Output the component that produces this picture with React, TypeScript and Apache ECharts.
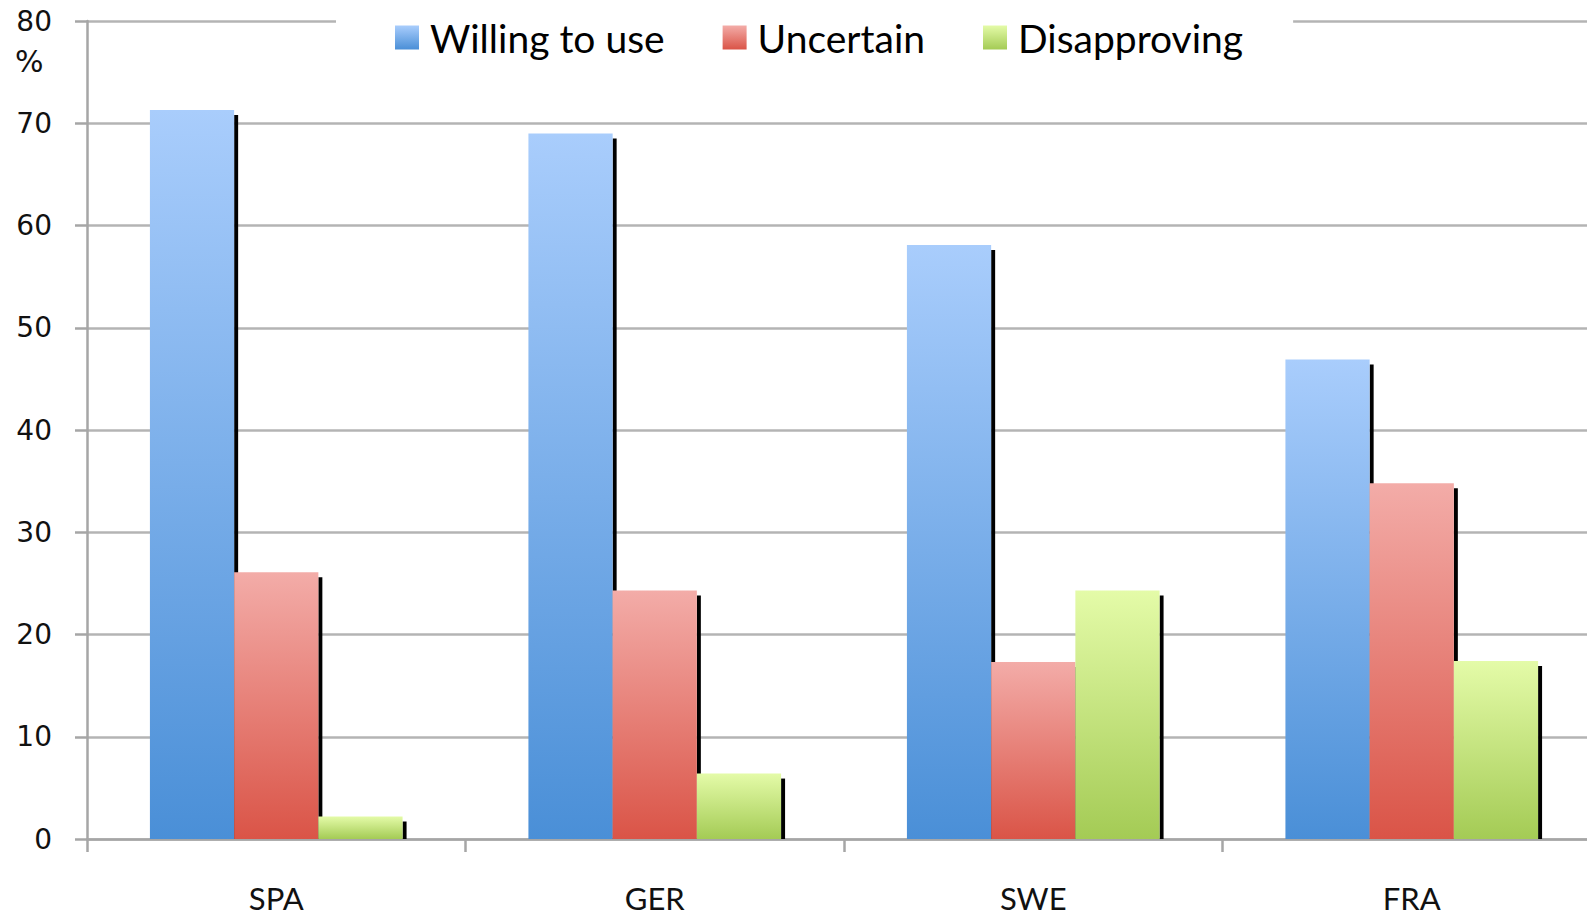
import React, { useEffect, useRef } from "react";
import * as echarts from "echarts";

const categories = ["SPA", "GER", "SWE", "FRA"];
const seriesNames = ["Willing to use", "Uncertain", "Disapproving"];
const willing = [71.3, 69.0, 58.1, 46.9];
const uncertain = [26.1, 24.3, 17.3, 34.8];
const disapproving = [2.2, 6.4, 24.3, 17.4];
const yTicks = [0, 10, 20, 30, 40, 50, 60, 70, 80];

const gradients = [
  ["#a9cdfc", "#4a8fd7"],
  ["#f3aca8", "#da5447"],
  ["#e4fba8", "#a4cb55"],
];

const BAR_FRAC = 0.2225;

export default function App() {
  const ref = useRef<HTMLDivElement>(null);
  useEffect(() => {
    if (!ref.current) return;
    const chart = echarts.init(ref.current, undefined, { renderer: "svg" });
    const allData = [willing, uncertain, disapproving];
    const grad = (i: number) =>
      new echarts.graphic.LinearGradient(0, 0, 0, 1, [
        { offset: 0, color: gradients[i][0] },
        { offset: 1, color: gradients[i][1] },
      ]);
    const series = allData.map((vals, idx) => ({
      type: "custom",
      name: seriesNames[idx],
      itemStyle: { color: gradients[idx][1] },
      data: vals.map((v, ci) => [ci, v]),
      encode: { x: 0, y: 1 },
      renderItem: (params: any, api: any) => {
        const ci = api.value(0);
        const v = api.value(1);
        const top = api.coord([ci, v]);
        const base = api.coord([ci, 0]);
        const band = api.size([1, 0])[0];
        const w = band * BAR_FRAC;
        const x = top[0] + (idx - 1) * w - w / 2;
        const h = base[1] - top[1];
        return {
          type: "group",
          children: [
            {
              type: "rect",
              shape: { x: x + w, y: top[1] + 5, width: 4, height: Math.max(0, h - 5) },
              style: { fill: "#000" },
            },
            {
              type: "rect",
              shape: { x, y: top[1], width: w, height: h },
              style: { fill: grad(idx) },
            },
          ],
        };
      },
    }));
    chart.setOption({
      animation: false,
      backgroundColor: "#fff",
      grid: {
        left: 87,
        top: 21,
        width: 1514,
        height: 818,
        containLabel: false,
        outerBoundsMode: "none",
      },
      legend: {
        left: 336,
        top: 14,
        padding: [4, 50, 4, 59],
        itemGap: 58,
        itemWidth: 24,
        itemHeight: 24,
        backgroundColor: "#fff",
        data: seriesNames.map((n, i) => ({
          name: n,
          icon: "rect",
          itemStyle: { color: grad(i) },
        })),
        textStyle: { fontFamily: "Lato", fontSize: 39, color: "#000", padding: [0, 0, 0, 6] },
      },
      xAxis: {
        type: "category",
        data: categories,
        axisLine: { lineStyle: { color: "#a6a6a6", width: 2.5 } },
        axisTick: { show: true, length: 13, alignWithLabel: false, lineStyle: { color: "#a6a6a6", width: 2.5 } },
        axisLabel: { fontFamily: "Lato", fontSize: 31, lineHeight: 24, color: "#111", margin: 47 },
        splitLine: { show: false },
      },
      yAxis: {
        type: "value",
        min: 0,
        max: 80,
        interval: 10,
        axisLine: { show: true, lineStyle: { color: "#a6a6a6", width: 2.5 } },
        axisTick: { show: true, length: 12, lineStyle: { color: "#a6a6a6", width: 2.5 } },
        axisLabel: {
          fontFamily: "DejaVu Sans",
          fontSize: 28,
          color: "#111",
          margin: 35,
          formatter: (v: number) => (yTicks.includes(v) ? String(v) : ""),
        },
        splitLine: { lineStyle: { color: "#b4b4b4", width: 2.5 } },
      },
      graphic: [
        {
          type: "text",
          left: 15,
          top: 46,
          style: { text: "%", fontFamily: "DejaVu Sans", fontSize: 30, fill: "#111" },
        },
      ],
      series,
    });
    return () => chart.dispose();
  }, []);
  return <div ref={ref} style={{ width: 1587, height: 918, position: "absolute", left: 0, top: 0 }} />;
}
